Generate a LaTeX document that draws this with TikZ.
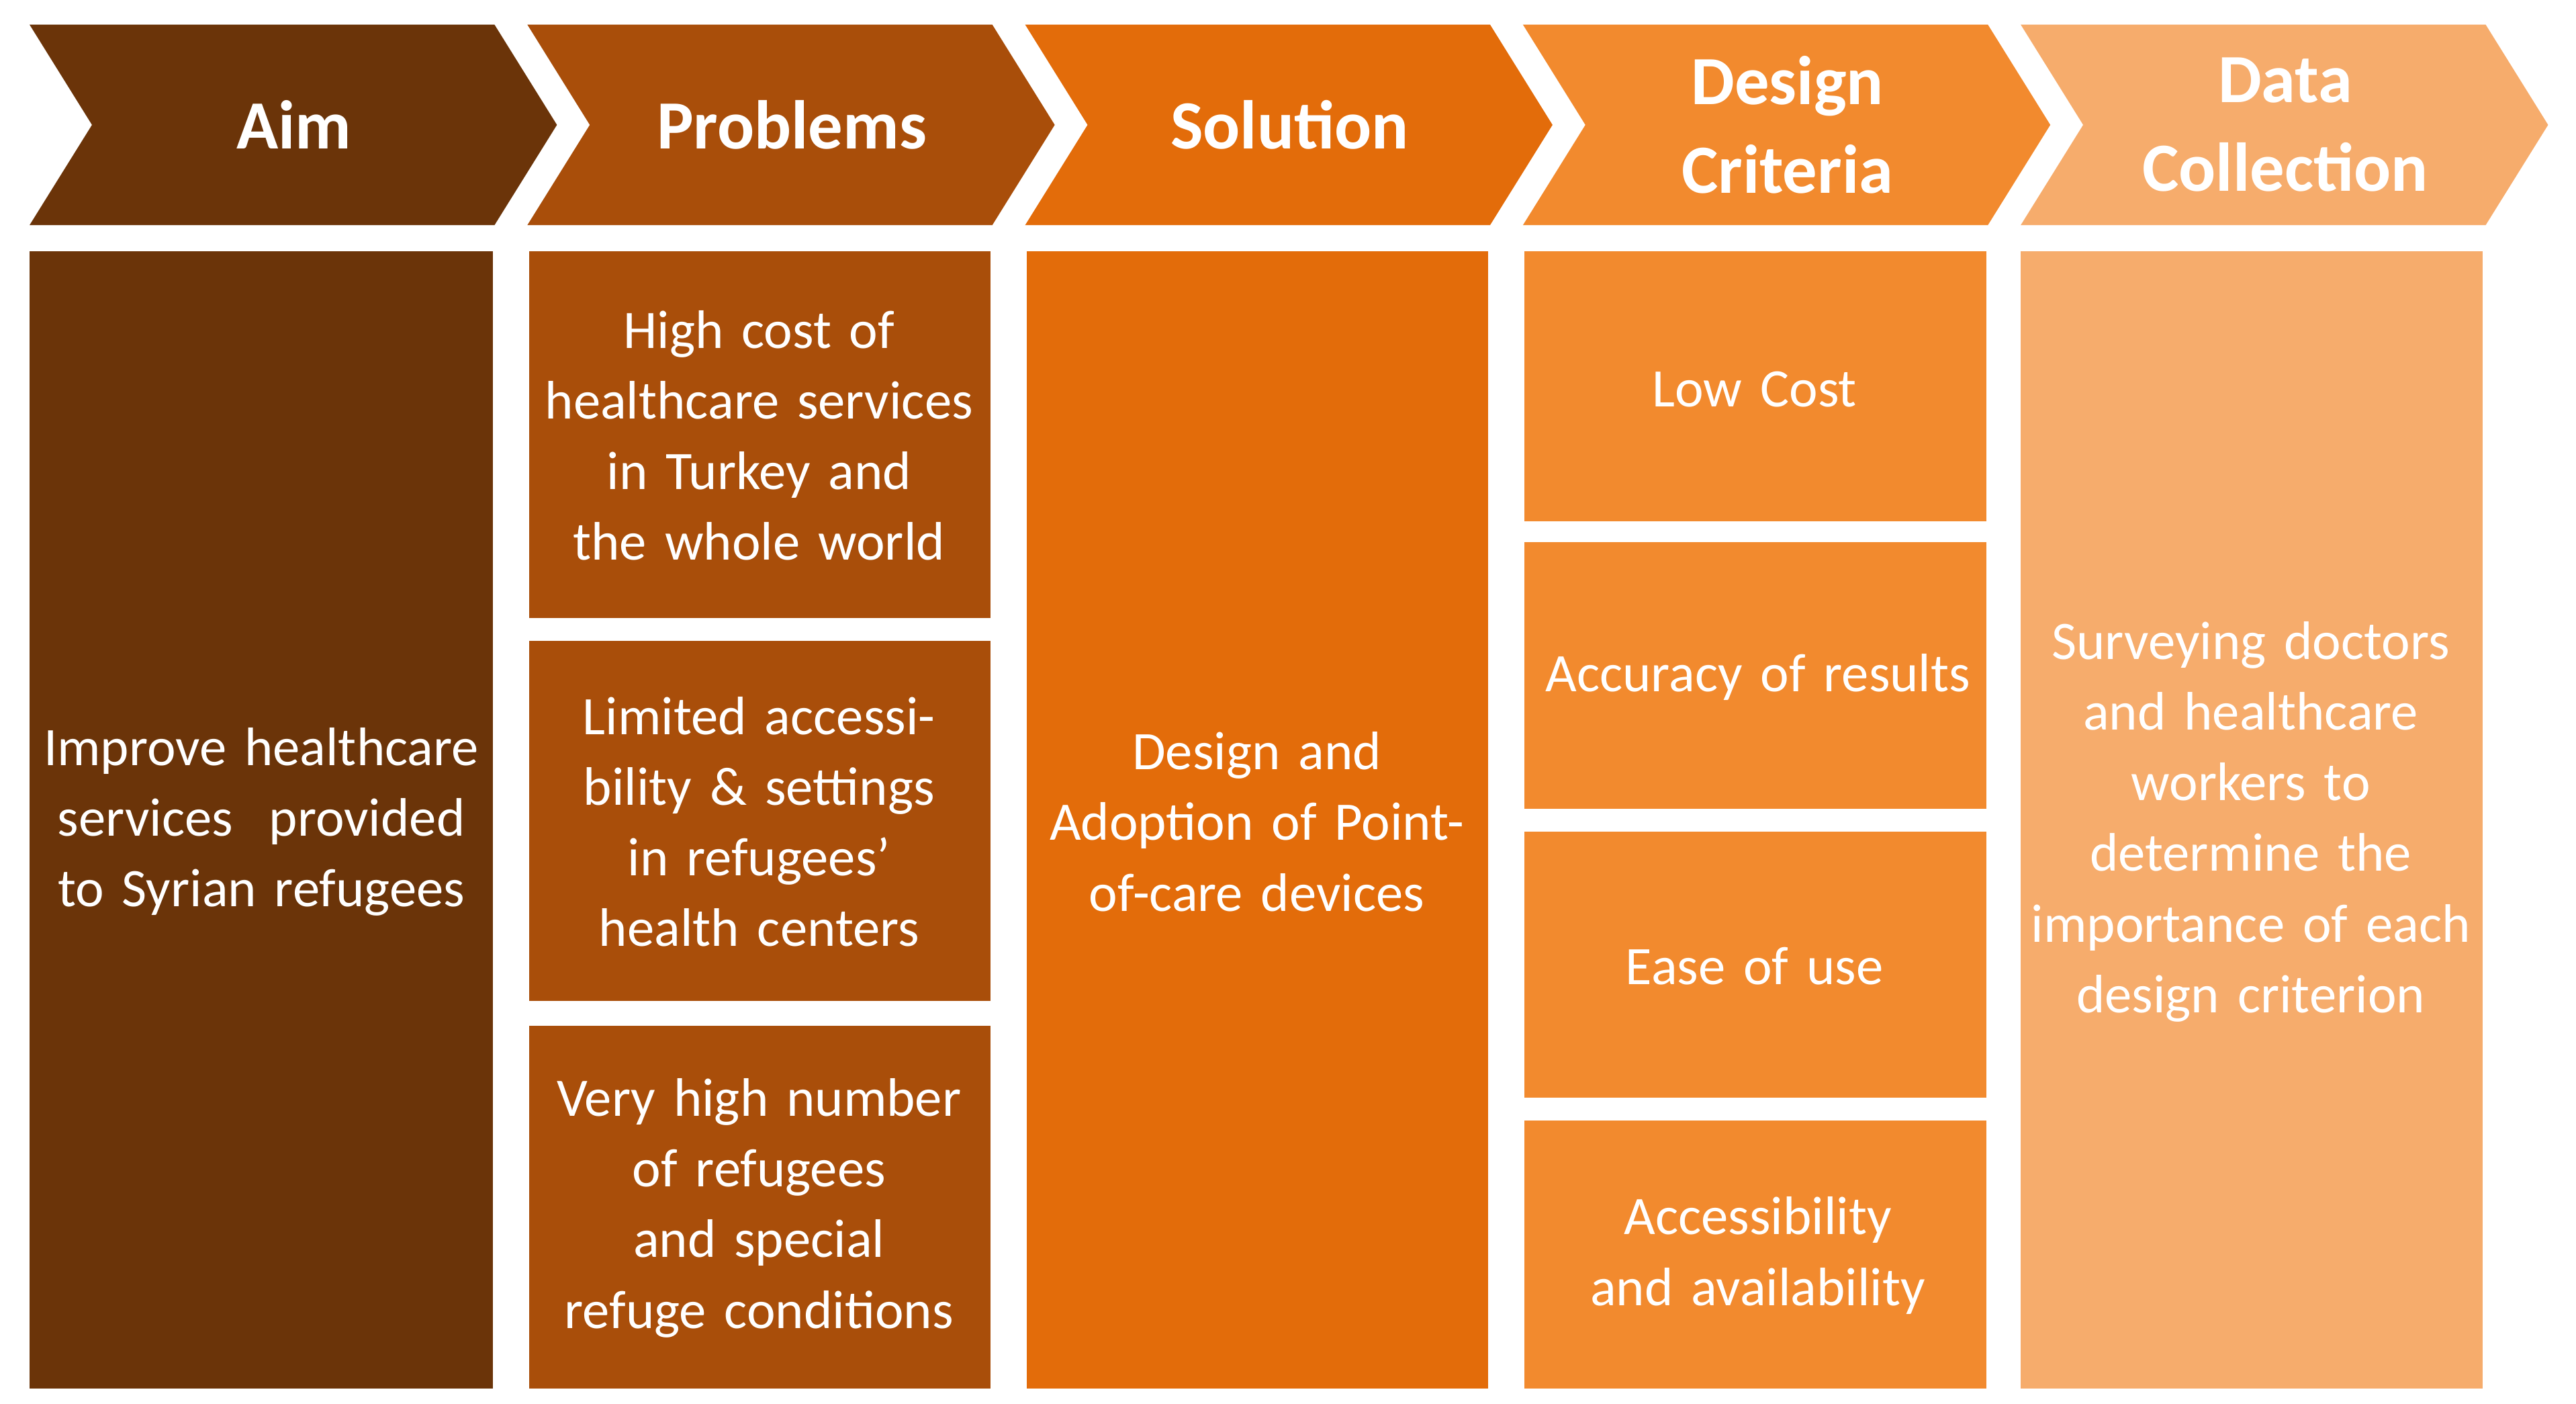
\documentclass[tikz,border=0pt]{standalone}
\usepackage{fontspec}
\setmainfont{Carlito}
\definecolor{c1}{HTML}{6B3409}
\definecolor{c2}{HTML}{A94E0A}
\definecolor{c3}{HTML}{E36C0A}
\definecolor{c4}{HTML}{F28A2E}
\definecolor{c5}{HTML}{F6AC6C}
\begin{document}
\begin{tikzpicture}[x=0.5pt,y=-0.5pt,
  hd/.style={text=white,font=\fontsize{21}{27}\selectfont\bfseries,align=center},
  bt/.style={text=white,font=\fontsize{16.5}{21.5}\selectfont,align=center,text width=135pt}]
\useasboundingbox (0,0) rectangle (1568,854);
\fill[white] (0,0) rectangle (1568,854);
\foreach \i/\c in {0/c1,1/c2,2/c3,3/c4,4/c5}{
  \pgfmathsetmacro\xo{18+303*\i}
  \fill[\c] (\xo,15) -- (\xo+283,15) -- (\xo+321,76) -- (\xo+283,137) -- (\xo,137) -- (\xo+38,76) -- cycle;
}
\node[hd] (h1) at (179,76) {Aim};
\node[hd] (h2) at (482,76) {Problems};
\node[hd] (h3) at (785,76) {Solution};
\node[hd] (h4) at (1088,76) {Design\\Criteria};
\node[hd] (h5) at (1391,76) {Data\\Collection};
% Aim
\fill[c1] (18,153) rectangle (300,845);
\node[bt] (a1) at (159,500) {Improve healthcare services\ \ provided to Syrian refugees};
% Problems
\fill[c2] (322,153) rectangle (603,376);
\fill[c2] (322,390) rectangle (603,609);
\fill[c2] (322,624) rectangle (603,845);
\node[bt] (p1) at (462,265) {High cost of healthcare services in Turkey and the whole world};
\node[bt] (p2) at (462,500) {Limited accessibility \& settings in refugees’ health centers};
\node[bt] (p3) at (462,735) {Very high number of refugees and special refuge conditions};
% Solution
\fill[c3] (625,153) rectangle (906,845);
\node[bt] (s1) at (765,500) {Design and Adoption of Point-of-care devices};
% Design
\fill[c4] (928,153) rectangle (1209,317);
\fill[c4] (928,330) rectangle (1209,492);
\fill[c4] (928,506) rectangle (1209,668);
\fill[c4] (928,682) rectangle (1209,845);
\node[bt] (d1) at (1068,237) {Low Cost};
\node[bt] (d2) at (1070,412) {Accuracy of results};
\node[bt] (d3) at (1068,588) {Ease of use};
\node[bt] (d4) at (1070,764) {Accessibility and availability};
% Data
\fill[c5] (1230,153) rectangle (1511,845);
\node[bt] (e1) at (1370,500) {Surveying doctors and healthcare workers to determine the importance of each design criterion};
\end{tikzpicture}
\end{document}
